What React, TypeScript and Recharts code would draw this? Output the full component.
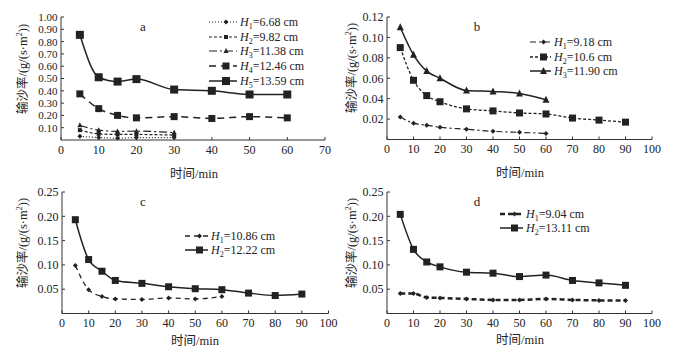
import React from 'react';
import { LineChart, Line, XAxis, YAxis } from 'recharts';

// sampling times (min)
const timeLong = [5, 10, 15, 20, 30, 40, 50, 60];
const timeFull = [5, 10, 15, 20, 30, 40, 50, 60, 70, 80, 90];

// a
const aH1 = [0.03, 0.02, 0.015, 0.02, 0.02];
const aH2 = [0.08, 0.05, 0.045, 0.045, 0.04];
const aH3 = [0.12, 0.08, 0.07, 0.072, 0.06];
const aH4 = [0.375, 0.255, 0.2, 0.18, 0.19, 0.175, 0.19, 0.18];
const aH5 = [0.855, 0.51, 0.475, 0.495, 0.41, 0.4, 0.37, 0.37];

// b
const bH1 = [0.022, 0.016, 0.014, 0.012, 0.01, 0.008, 0.007, 0.006];
const bH2 = [0.09, 0.058, 0.043, 0.037, 0.03, 0.028, 0.026, 0.025, 0.021, 0.019, 0.017];
const bH3 = [0.11, 0.083, 0.067, 0.06, 0.048, 0.047, 0.045, 0.039];

// c
const cH1 = [0.099, 0.049, 0.035, 0.03, 0.029, 0.032, 0.03, 0.035];
const cH2 = [0.193, 0.111, 0.087, 0.068, 0.062, 0.055, 0.051, 0.049, 0.042, 0.037, 0.04];

// d
const dH1 = [0.041, 0.041, 0.033, 0.032, 0.03, 0.028, 0.028, 0.03, 0.028, 0.027, 0.027];
const dH2 = [0.204, 0.132, 0.106, 0.096, 0.085, 0.083, 0.076, 0.079, 0.068, 0.063, 0.058];

const ticksX70 = [0, 10, 20, 30, 40, 50, 60, 70];
const ticksX100 = [0, 10, 20, 30, 40, 50, 60, 70, 80, 90, 100];
const ticksYA = [0.1, 0.2, 0.3, 0.4, 0.5, 0.6, 0.7, 0.8, 0.9, 1.0];
const ticksYB = [0.02, 0.04, 0.06, 0.08, 0.1, 0.12];
const ticksYCD = [0.05, 0.1, 0.15, 0.2, 0.25];

const FONT = "'Liberation Serif', 'Times New Roman', 'Noto Sans CJK SC', serif";
const INK = '#222';

function buildRows(times: number[], series: Record<string, number[]>) {
  return times.map((t, i) => {
    const row: Record<string, number | undefined> = { t };
    Object.keys(series).forEach((k) => {
      row[k] = i < series[k].length ? series[k][i] : undefined;
    });
    return row;
  });
}

type Shape = 'diamond' | 'square' | 'triangle';

function Marker({ shape, size, x, y }: { shape: Shape; size: number; x: number; y: number }) {
  const h = size / 2;
  if (shape === 'square') {
    return <rect x={x - h} y={y - h} width={size} height={size} fill={INK} />;
  }
  if (shape === 'triangle') {
    return <polygon points={`${x},${y - h - 1} ${x + h + 0.5},${y + h} ${x - h - 0.5},${y + h}`} fill={INK} />;
  }
  return <polygon points={`${x},${y - h} ${x + h},${y} ${x},${y + h} ${x - h},${y}`} fill={INK} />;
}

const makeDot = (shape: Shape, size: number) => (p: any) => {
  const { cx, cy, index } = p;
  if (cx == null || cy == null) return <g key={`d-${index}`} />;
  return (
    <g key={`d-${index}`}>
      <Marker shape={shape} size={size} x={cx} y={cy} />
    </g>
  );
};

interface SeriesDef {
  key: string;
  sub: string;
  label: string;
  dash?: string;
  width: number;
  shape: Shape;
  size: number;
}

interface PanelDef {
  letter: string;
  plot: { x: number; y: number; w: number; h: number };
  xMax: number;
  xTicks: number[];
  yMax: number;
  yTicks: number[];
  yTickSize: number;
  rows: Record<string, number | undefined>[];
  series: SeriesDef[];
  letterPos: [number, number];
  legend: { x: number; y: number; sample: number; row: number };
  yTitle: [number, number];
  xTitle: [number, number];
}

const panels: PanelDef[] = [
  {
    letter: 'a',
    plot: { x: 61, y: 17, w: 264, h: 123 },
    xMax: 70,
    xTicks: ticksX70,
    yMax: 1,
    yTicks: ticksYA,
    yTickSize: 11,
    rows: buildRows(timeLong, { h1: aH1, h2: aH2, h3: aH3, h4: aH4, h5: aH5 }),
    series: [
      { key: 'h1', sub: '1', label: '=6.68 cm', dash: '1 2', width: 1.2, shape: 'diamond', size: 5 },
      { key: 'h2', sub: '2', label: '=9.82 cm', dash: '3 2', width: 1.2, shape: 'square', size: 4 },
      { key: 'h3', sub: '3', label: '=11.38 cm', dash: '8 3 2 3', width: 1.2, shape: 'triangle', size: 4 },
      { key: 'h4', sub: '4', label: '=12.46 cm', dash: '7 5', width: 1.5, shape: 'square', size: 7 },
      { key: 'h5', sub: '5', label: '=13.59 cm', width: 1.5, shape: 'square', size: 8 },
    ],
    letterPos: [143, 27],
    legend: { x: 209, y: 15, sample: 28, row: 14.6 },
    yTitle: [23, 69],
    xTitle: [194, 172],
  },
  {
    letter: 'b',
    plot: { x: 387, y: 17, w: 265, h: 122.5 },
    xMax: 100,
    xTicks: ticksX100,
    yMax: 0.12,
    yTicks: ticksYB,
    yTickSize: 12,
    rows: buildRows(timeFull, { h1: bH1, h2: bH2, h3: bH3 }),
    series: [
      { key: 'h1', sub: '1', label: '=9.18 cm', dash: '6 3 2 3', width: 1.2, shape: 'diamond', size: 5 },
      { key: 'h2', sub: '2', label: '=10.6 cm', dash: '3 2', width: 1.3, shape: 'square', size: 7 },
      { key: 'h3', sub: '3', label: '=11.90 cm', width: 1.5, shape: 'triangle', size: 6 },
    ],
    letterPos: [477, 27],
    legend: { x: 530, y: 35, sample: 21, row: 14.5 },
    yTitle: [352, 68],
    xTitle: [520, 171],
  },
  {
    letter: 'c',
    plot: { x: 61.5, y: 192, w: 266.5, h: 121.5 },
    xMax: 100,
    xTicks: ticksX100,
    yMax: 0.25,
    yTicks: ticksYCD,
    yTickSize: 12,
    rows: buildRows(timeFull, { h1: cH1, h2: cH2 }),
    series: [
      { key: 'h1', sub: '1', label: '=10.86 cm', dash: '5 4', width: 1.3, shape: 'diamond', size: 5 },
      { key: 'h2', sub: '2', label: '=12.22 cm', width: 1.5, shape: 'square', size: 7 },
    ],
    letterPos: [143, 202],
    legend: { x: 185, y: 229, sample: 23, row: 14 },
    yTitle: [23, 243],
    xTitle: [195, 339],
  },
  {
    letter: 'd',
    plot: { x: 387, y: 192, w: 265, h: 121.5 },
    xMax: 100,
    xTicks: ticksX100,
    yMax: 0.25,
    yTicks: ticksYCD,
    yTickSize: 12,
    rows: buildRows(timeFull, { h1: dH1, h2: dH2 }),
    series: [
      { key: 'h1', sub: '1', label: '=9.04 cm', dash: '5 3', width: 2.5, shape: 'diamond', size: 5 },
      { key: 'h2', sub: '2', label: '=13.11 cm', width: 1.5, shape: 'square', size: 7 },
    ],
    letterPos: [477, 202],
    legend: { x: 500, y: 207, sample: 23, row: 14 },
    yTitle: [352, 243],
    xTitle: [520, 338],
  },
];

const PAD_L = 60;
const PAD_T = 20;
const PAD_R = 20;
const X_AXIS_H = 25;
const PAD_B = 20;

function Panel({ p }: { p: PanelDef }) {
  const width = p.plot.w + PAD_L + PAD_R;
  const height = p.plot.h + PAD_T + X_AXIS_H + PAD_B;
  const tick = { fontSize: 12, fill: INK, fontFamily: FONT };
  const yTick = { ...tick, fontSize: p.yTickSize };
  const axisLine = { stroke: '#333', strokeWidth: 1 };
  return (
    <>
      <div style={{ position: 'absolute', left: p.plot.x - PAD_L, top: p.plot.y - PAD_T }}>
        <LineChart
          width={width}
          height={height}
          data={p.rows}
          margin={{ top: PAD_T, right: PAD_R, left: 0, bottom: PAD_B }}
        >
          <XAxis
            dataKey="t"
            type="number"
            domain={[0, p.xMax]}
            ticks={p.xTicks}
            interval={0}
            height={X_AXIS_H}
            tick={tick}
            tickSize={-3}
            tickMargin={8}
            axisLine={axisLine}
            tickLine={axisLine}
            allowDataOverflow
          />
          <YAxis
            type="number"
            domain={[0, p.yMax]}
            ticks={p.yTicks}
            interval={0}
            width={PAD_L}
            tick={yTick}
            tickSize={-3}
            tickMargin={6.5}
            tickFormatter={(v: number) => v.toFixed(2)}
            axisLine={axisLine}
            tickLine={axisLine}
            allowDataOverflow
          />
          {p.series.map((s) => (
            <Line
              key={s.key}
              type="monotone"
              dataKey={s.key}
              stroke={INK}
              strokeWidth={s.width}
              strokeDasharray={s.dash}
              dot={makeDot(s.shape, s.size)}
              activeDot={false}
              isAnimationActive={false}
            />
          ))}
        </LineChart>
      </div>
      <div
        style={{
          position: 'absolute',
          left: p.letterPos[0],
          top: p.letterPos[1],
          transform: 'translate(-50%, -50%)',
          fontFamily: FONT,
          fontSize: 13,
          color: INK,
        }}
      >
        {p.letter}
      </div>
      <svg
        width={18}
        height={124}
        style={{ position: 'absolute', left: p.yTitle[0] - 9, top: p.yTitle[1] - 62, overflow: 'visible' }}
      >
        <text
          x={9}
          y={62}
          transform="rotate(-90 9 62)"
          textAnchor="middle"
          dominantBaseline="central"
          fontFamily={FONT}
          fontSize={12.5}
          fill={INK}
        >
          输沙率/(g/(s·m
          <tspan dy={-4} fontSize={8}>2</tspan>
          <tspan dy={4}>))</tspan>
        </text>
      </svg>
      <div
        style={{
          position: 'absolute',
          left: p.xTitle[0],
          top: p.xTitle[1],
          transform: 'translate(-50%, -50%)',
          whiteSpace: 'nowrap',
          fontFamily: FONT,
          fontSize: 12.5,
          color: INK,
        }}
      >
        时间/min
      </div>
      <div style={{ position: 'absolute', left: p.legend.x, top: p.legend.y, fontFamily: FONT, color: INK }}>
        {p.series.map((s) => (
          <div key={s.key} style={{ display: 'flex', alignItems: 'center', height: p.legend.row, whiteSpace: 'nowrap' }}>
            <svg width={p.legend.sample} height={10} style={{ display: 'block' }}>
              <line
                x1={0}
                y1={5}
                x2={p.legend.sample}
                y2={5}
                stroke={INK}
                strokeWidth={s.width}
                strokeDasharray={s.dash}
              />
              <Marker shape={s.shape} size={s.size} x={p.legend.sample / 2 + 3} y={5} />
            </svg>
            <span style={{ fontSize: 12, marginLeft: 3, lineHeight: '14px' }}>
              <i>H</i>
              <sub style={{ fontSize: 8, lineHeight: 0 }}>{s.sub}</sub>
              {s.label}
            </span>
          </div>
        ))}
      </div>
    </>
  );
}

export default function App() {
  return (
    <div style={{ position: 'absolute', left: 0, top: 0, width: 690, height: 353, background: '#fff', overflow: 'hidden' }}>
      {panels.map((p) => (
        <Panel key={p.letter} p={p} />
      ))}
    </div>
  );
}
